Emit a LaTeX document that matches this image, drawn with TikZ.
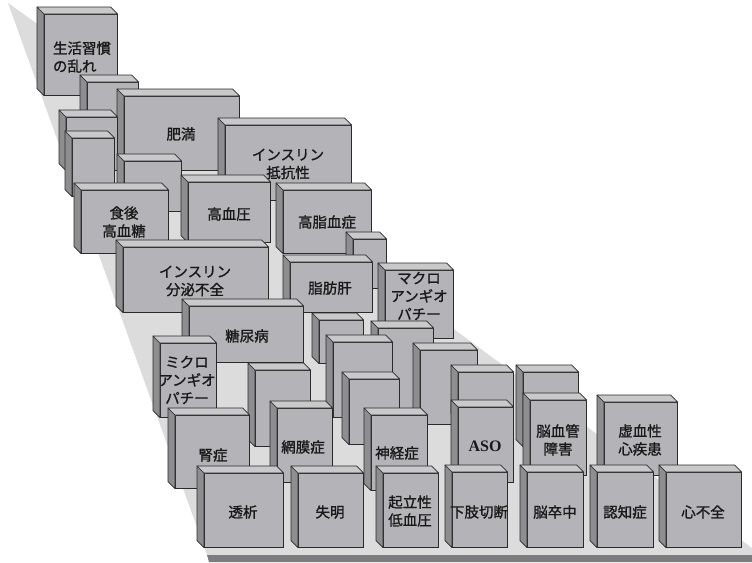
\documentclass[tikz,border=0pt]{standalone}
\usepackage{fontspec}
\setmainfont{Liberation Serif}
\newfontfamily\jp{Noto Sans CJK JP}[FakeBold=1.2]
\definecolor{frontc}{HTML}{B4B4B8}
\definecolor{topc}{HTML}{C9C9CC}
\definecolor{sidec}{HTML}{8E8E91}
\definecolor{edgec}{HTML}{2A2A2A}
\definecolor{floorc}{HTML}{DCDCDD}
\definecolor{bandc}{HTML}{7C7C7E}
\tikzset{
  face/.style={rectangle, fill=frontc, draw=edgec, line width=0.7pt, inner sep=0pt},
  topf/.style={fill=topc, draw=edgec, line width=0.7pt, line join=round},
  sidef/.style={fill=sidec, draw=edgec, line width=0.7pt, line join=round},
  lbl/.style={font=\jp\fontsize{14.5}{18}\selectfont, align=center, inner sep=0pt, text=black!90}
}
\newcommand\plainblock[5]{%
  \node[face, anchor=north west, minimum width={#4-#2}, minimum height={#5-#3}] (#1) at (#2,#3) {};
  \filldraw[sidef] (#1.north west) -- ++(-7,-7) -- ([shift={(-7,-7)}]#1.south west) -- (#1.south west) -- cycle;
  \filldraw[topf] (#1.north west) -- ++(-7,-7) -- ([shift={(-7,-7)}]#1.north east) -- (#1.north east) -- cycle;
}
\newcommand\myblock[8]{%
  \plainblock{#1}{#2}{#3}{#4}{#5}
  \node[lbl] (#1-t) at (#6,#7) {#8};
}
\begin{document}
\begin{tikzpicture}[x=1pt,y=-1pt]
\useasboundingbox (0,0) rectangle (752,562);
% floor
\fill[floorc] (8,3) -- (60,40) -- (752,548) -- (752,555) -- (207,555) -- cycle;
\fill[bandc] (207,555) -- (752,555) -- (752,562) -- (209,562) -- cycle;
% blocks, back to front
\myblock{seikatsu}{44}{14}{117}{95}{82}{57}{生活習慣\\の乱れ\hphantom{習}}
\plainblock{b2}{87}{82}{138}{130}
\myblock{himan}{124}{96}{239}{170}{181}{134}{肥満}
\plainblock{b3}{66}{117}{117}{170}
\myblock{teikou}{225}{125}{351}{200}{288}{164}{インスリン\\抵抗性}
\plainblock{b4}{72}{138}{114}{196}
\plainblock{b5}{124}{161}{181}{211}
\myblock{kouketsuatsu}{188}{182}{270}{242}{229}{214}{高血圧}
\myblock{shokugo}{81}{190}{168}{253}{124}{222}{食後\\高血糖}
\myblock{koushi}{283}{190}{371}{253}{327}{222}{高脂血症}
\plainblock{b6}{353}{239}{386}{288}
\myblock{bunpitsu}{123}{247}{268}{312}{195}{281}{インスリン\\分泌不全}
\myblock{shibou}{290}{262}{372}{312}{330}{288}{脂肪肝}
\myblock{macro}{385}{270}{453}{338}{419}{296}{マクロ\\アンギオ\\パチー}
\myblock{tounyou}{189}{306}{303}{362}{247}{336}{糖尿病}
\plainblock{b8a}{319}{320}{363}{363}
\plainblock{b8d}{378}{328}{433}{420}
\plainblock{b8b}{333}{342}{392}{417}
\myblock{micro}{160}{343}{216}{417}{187}{380}{ミクロ\\アンギオ\\パチー}
\plainblock{b8e}{420}{350}{477}{424}
\plainblock{b7}{255}{370}{310}{446}
\plainblock{b9}{458}{372}{513}{420}
\plainblock{b10}{523}{372}{578}{446}
\plainblock{b8c}{349}{379}{399}{444}
\myblock{noukekkan}{530}{400}{586}{475}{558}{440}{脳血管\\障害}
\myblock{kyoketsu}{604}{402}{677}{475}{640}{440}{虚血性\\心疾患}
\myblock{aso}{458}{407}{513}{482}{485}{446}{\rmfamily\bfseries\fontsize{16}{18}\selectfont ASO}
\myblock{moumaku}{277}{408}{332}{482}{303}{447}{網膜症}
\myblock{jinsho}{175}{415}{249}{488}{213}{455}{腎症}
\myblock{shinkei}{371}{415}{427}{490}{397}{453}{神経症}
\myblock{touseki}{204}{473}{283}{547}{243}{512}{透析}
\myblock{shitsumei}{298}{473}{363}{547}{330}{512}{失明}
\myblock{kiritsu}{383}{473}{438}{547}{410}{511}{起立性\\低血圧}
\myblock{kashi}{452}{472}{507}{547}{479}{512}{下肢切断}
\myblock{nousotchu}{527}{472}{583}{547}{555}{512}{脳卒中}
\myblock{ninchi}{597}{472}{653}{547}{625}{512}{認知症}
\myblock{shinfuzen}{666}{472}{741}{547}{703}{512}{心不全}
\end{tikzpicture}
\end{document}
